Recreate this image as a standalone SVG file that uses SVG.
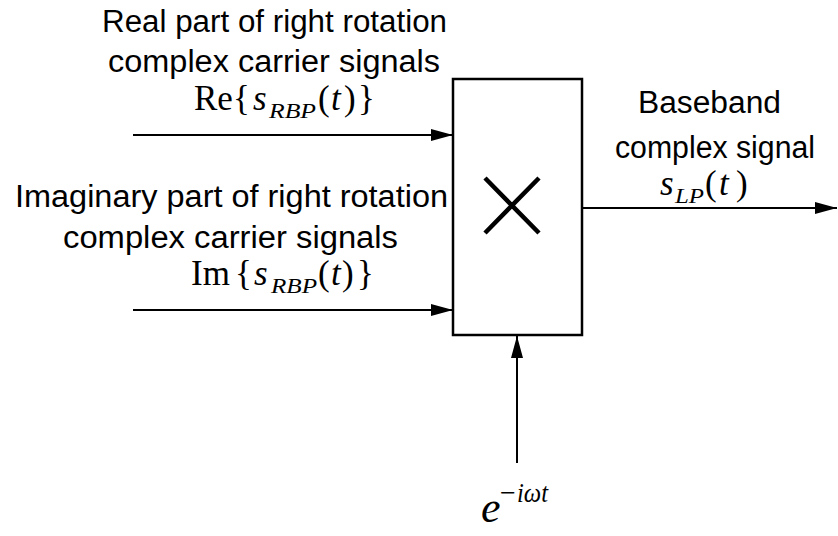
<svg xmlns="http://www.w3.org/2000/svg" width="838" height="536" viewBox="0 0 838 536">
<defs>
<marker id="ah" markerWidth="22" markerHeight="12" refX="22" refY="6" orient="auto" markerUnits="userSpaceOnUse">
<path d="M0,0 L22,6 L0,12 Z" fill="#000"/>
</marker>
<style>
.lbl{font-family:"Liberation Sans",Arial,sans-serif;font-size:31px;fill:#000}
.math{font-family:"Liberation Serif","Times New Roman",serif;font-size:35px;fill:#000}
.sub{font-size:21px;font-style:italic}
.it{font-style:italic}
.wire{stroke:#000;stroke-width:2;fill:none}
</style>
</defs>
<rect width="838" height="536" fill="#fff"/>
<g id="multiplier">
<rect x="453" y="79" width="129" height="256" fill="#fff" stroke="#000" stroke-width="2.5"/>
<path d="M485,178 L539,233 M539,178 L485,233" stroke="#000" stroke-width="4.5" fill="none"/>
</g>
<g id="connectors">
<line class="wire" x1="133" y1="135" x2="453" y2="135" marker-end="url(#ah)"/>
<line class="wire" x1="133" y1="310" x2="453" y2="310" marker-end="url(#ah)"/>
<line class="wire" x1="582" y1="208" x2="837" y2="208" marker-end="url(#ah)"/>
<line class="wire" x1="517" y1="463" x2="517" y2="336" marker-end="url(#ah)"/>
</g>
<g id="label-re">
<text class="lbl" x="102" y="32" textLength="345" lengthAdjust="spacingAndGlyphs">Real part of right rotation</text>
<text class="lbl" x="108" y="72" textLength="332" lengthAdjust="spacingAndGlyphs">complex carrier signals</text>
<text class="math" y="110"><tspan x="194">Re</tspan><tspan x="233">{</tspan><tspan x="253" class="it">s</tspan><tspan x="269" dy="8" class="sub" textLength="47" lengthAdjust="spacingAndGlyphs">RBP</tspan><tspan x="318" dy="-8">(</tspan><tspan x="331" class="it">t</tspan><tspan x="344">)</tspan><tspan x="358">}</tspan></text>
</g>
<g id="label-im">
<text class="lbl" x="15" y="207" textLength="433" lengthAdjust="spacingAndGlyphs">Imaginary part of right rotation</text>
<text class="lbl" x="63" y="248" textLength="335" lengthAdjust="spacingAndGlyphs">complex carrier signals</text>
<text class="math" y="285"><tspan x="191">Im</tspan><tspan x="235">{</tspan><tspan x="254" class="it">s</tspan><tspan x="271" dy="8" class="sub" textLength="46" lengthAdjust="spacingAndGlyphs">RBP</tspan><tspan x="318" dy="-8">(</tspan><tspan x="331" class="it">t</tspan><tspan x="342">)</tspan><tspan x="357">}</tspan></text>
</g>
<g id="label-out">
<text class="lbl" x="638" y="113" textLength="143" lengthAdjust="spacingAndGlyphs">Baseband</text>
<text class="lbl" x="615" y="158" textLength="200" lengthAdjust="spacingAndGlyphs">complex signal</text>
<text class="math" y="195"><tspan x="660" class="it">s</tspan><tspan x="675" dy="8" class="sub" textLength="29" lengthAdjust="spacingAndGlyphs">LP</tspan><tspan x="705" dy="-8">(</tspan><tspan x="719" class="it">t</tspan><tspan x="736">)</tspan></text>
</g>
<g id="label-exp">
<text class="math" y="522"><tspan x="481" class="it" font-size="44">e</tspan><tspan x="500" y="502" font-size="28">−</tspan><tspan x="517" class="it" font-size="28" textLength="31" lengthAdjust="spacingAndGlyphs">iωt</tspan></text>
</g>
</svg>
